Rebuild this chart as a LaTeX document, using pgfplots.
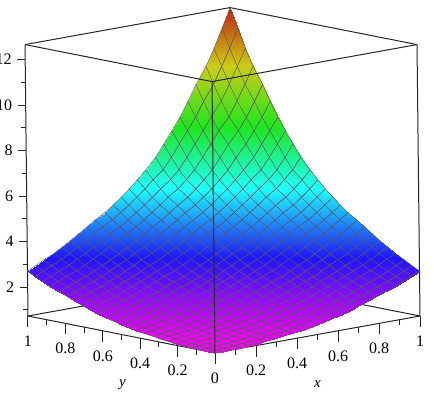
\documentclass[border=0pt]{standalone}
\usepackage{fontspec}
\setmainfont{Liberation Serif}
\usepackage{pgfplots}
\pgfplotsset{compat=1.18}
\begin{document}
\begin{tikzpicture}
\begin{axis}[
 x={(205pt,37pt)}, y={(-187pt,37pt)}, z={(-0.25pt,22.75pt)},
 xmin=0,xmax=1,ymin=0,ymax=1,zmin=0.73,zmax=12.66,
 3d box=complete,
 xtick={0.2,0.4,0.6,0.8,1}, ytick={0,0.2,0.4,0.6,0.8,1}, ztick={2,4,6,8,10,12},
 /pgf/number format/assume math mode=true,
 ticklabel style={font=\fontsize{16}{18}\selectfont},
 xticklabel style={anchor=center,yshift=-25pt},
 yticklabel style={anchor=center,yshift=-25pt},
 zticklabel style={anchor=east,xshift=-10pt},
 major tick length=0pt,
 xlabel={\textit{x}}, ylabel={\textit{y}},
 every axis x label/.style={at={(axis cs:0.5,0,0.73)},anchor=center,yshift=-50pt,font=\fontsize{15}{17}\selectfont},
 every axis y label/.style={at={(axis cs:0,0.5,0.73)},anchor=center,xshift=1pt,yshift=-50pt,font=\fontsize{15}{17}\selectfont},
 axis line style={line width=1pt,black!85},
 colormap={zhue}{rgb255(0)=(255,0,255) rgb255(1)=(30,20,255) rgb255(2)=(30,255,255) rgb255(3)=(30,230,30) rgb255(4)=(205,205,20) rgb255(5)=(190,35,20)},
 clip=false,
]
\addplot3[surf,shader=faceted interp,faceted color=black!65,line width=0.42pt,mesh/rows=25,mesh/cols=25] table[row sep=\\]{
x y z\\
0 0 .73\\.04 0 .73\\.08 0 .74\\.13 0 .75\\.17 0 .77\\.21 0 .80\\.25 0 .83\\.29 0 .87\\.33 0 .92\\.38 0 .97\\.42 0 1.02\\.46 0 1.09\\.5 0 1.16\\.54 0 1.24\\.58 0 1.33\\.63 0 1.44\\.67 0 1.55\\.71 0 1.67\\.75 0 1.80\\.79 0 1.93\\.83 0 2.07\\.88 0 2.22\\.92 0 2.37\\.96 0 2.53\\1 0 2.70\\
0 .04 .73\\.04 .04 .74\\.08 .04 .75\\.13 .04 .77\\.17 .04 .80\\.21 .04 .83\\.25 .04 .87\\.29 .04 .92\\.33 .04 .97\\.38 .04 1.02\\.42 .04 1.09\\.46 .04 1.16\\.5 .04 1.24\\.54 .04 1.33\\.58 .04 1.44\\.63 .04 1.55\\.67 .04 1.67\\.71 .04 1.80\\.75 .04 1.93\\.79 .04 2.07\\.83 .04 2.22\\.88 .04 2.37\\.92 .04 2.53\\.96 .04 2.70\\1 .04 2.88\\
0 .08 .74\\.04 .08 .75\\.08 .08 .77\\.13 .08 .80\\.17 .08 .83\\.21 .08 .87\\.25 .08 .92\\.29 .08 .97\\.33 .08 1.02\\.38 .08 1.09\\.42 .08 1.16\\.46 .08 1.24\\.5 .08 1.33\\.54 .08 1.44\\.58 .08 1.55\\.63 .08 1.67\\.67 .08 1.80\\.71 .08 1.93\\.75 .08 2.07\\.79 .08 2.22\\.83 .08 2.37\\.88 .08 2.53\\.92 .08 2.70\\.96 .08 2.88\\1 .08 3.07\\
0 .13 .75\\.04 .13 .77\\.08 .13 .80\\.13 .13 .83\\.17 .13 .87\\.21 .13 .92\\.25 .13 .97\\.29 .13 1.02\\.33 .13 1.09\\.38 .13 1.16\\.42 .13 1.24\\.46 .13 1.33\\.5 .13 1.44\\.54 .13 1.55\\.58 .13 1.67\\.63 .13 1.80\\.67 .13 1.93\\.71 .13 2.07\\.75 .13 2.22\\.79 .13 2.37\\.83 .13 2.53\\.88 .13 2.70\\.92 .13 2.88\\.96 .13 3.07\\1 .13 3.27\\
0 .17 .77\\.04 .17 .80\\.08 .17 .83\\.13 .17 .87\\.17 .17 .92\\.21 .17 .97\\.25 .17 1.02\\.29 .17 1.09\\.33 .17 1.16\\.38 .17 1.24\\.42 .17 1.33\\.46 .17 1.44\\.5 .17 1.55\\.54 .17 1.67\\.58 .17 1.80\\.63 .17 1.93\\.67 .17 2.07\\.71 .17 2.22\\.75 .17 2.37\\.79 .17 2.53\\.83 .17 2.70\\.88 .17 2.88\\.92 .17 3.07\\.96 .17 3.27\\1 .17 3.48\\
0 .21 .80\\.04 .21 .83\\.08 .21 .87\\.13 .21 .92\\.17 .21 .97\\.21 .21 1.02\\.25 .21 1.09\\.29 .21 1.16\\.33 .21 1.24\\.38 .21 1.33\\.42 .21 1.44\\.46 .21 1.55\\.5 .21 1.67\\.54 .21 1.80\\.58 .21 1.93\\.63 .21 2.07\\.67 .21 2.22\\.71 .21 2.37\\.75 .21 2.53\\.79 .21 2.70\\.83 .21 2.88\\.88 .21 3.07\\.92 .21 3.27\\.96 .21 3.48\\1 .21 3.70\\
0 .25 .83\\.04 .25 .87\\.08 .25 .92\\.13 .25 .97\\.17 .25 1.02\\.21 .25 1.09\\.25 .25 1.16\\.29 .25 1.24\\.33 .25 1.33\\.38 .25 1.44\\.42 .25 1.55\\.46 .25 1.67\\.5 .25 1.80\\.54 .25 1.93\\.58 .25 2.07\\.63 .25 2.22\\.67 .25 2.37\\.71 .25 2.53\\.75 .25 2.70\\.79 .25 2.88\\.83 .25 3.07\\.88 .25 3.27\\.92 .25 3.48\\.96 .25 3.70\\1 .25 3.93\\
0 .29 .87\\.04 .29 .92\\.08 .29 .97\\.13 .29 1.02\\.17 .29 1.09\\.21 .29 1.16\\.25 .29 1.24\\.29 .29 1.33\\.33 .29 1.44\\.38 .29 1.55\\.42 .29 1.67\\.46 .29 1.80\\.5 .29 1.93\\.54 .29 2.07\\.58 .29 2.22\\.63 .29 2.37\\.67 .29 2.53\\.71 .29 2.70\\.75 .29 2.88\\.79 .29 3.07\\.83 .29 3.27\\.88 .29 3.48\\.92 .29 3.70\\.96 .29 3.93\\1 .29 4.16\\
0 .33 .92\\.04 .33 .97\\.08 .33 1.02\\.13 .33 1.09\\.17 .33 1.16\\.21 .33 1.24\\.25 .33 1.33\\.29 .33 1.44\\.33 .33 1.55\\.38 .33 1.67\\.42 .33 1.80\\.46 .33 1.93\\.5 .33 2.07\\.54 .33 2.22\\.58 .33 2.37\\.63 .33 2.53\\.67 .33 2.70\\.71 .33 2.88\\.75 .33 3.07\\.79 .33 3.27\\.83 .33 3.48\\.88 .33 3.70\\.92 .33 3.93\\.96 .33 4.16\\1 .33 4.40\\
0 .38 .97\\.04 .38 1.02\\.08 .38 1.09\\.13 .38 1.16\\.17 .38 1.24\\.21 .38 1.33\\.25 .38 1.44\\.29 .38 1.55\\.33 .38 1.67\\.38 .38 1.80\\.42 .38 1.93\\.46 .38 2.07\\.5 .38 2.22\\.54 .38 2.37\\.58 .38 2.53\\.63 .38 2.70\\.67 .38 2.88\\.71 .38 3.07\\.75 .38 3.27\\.79 .38 3.48\\.83 .38 3.70\\.88 .38 3.93\\.92 .38 4.16\\.96 .38 4.40\\1 .38 4.66\\
0 .42 1.02\\.04 .42 1.09\\.08 .42 1.16\\.13 .42 1.24\\.17 .42 1.33\\.21 .42 1.44\\.25 .42 1.55\\.29 .42 1.67\\.33 .42 1.80\\.38 .42 1.93\\.42 .42 2.07\\.46 .42 2.22\\.5 .42 2.37\\.54 .42 2.53\\.58 .42 2.70\\.63 .42 2.88\\.67 .42 3.07\\.71 .42 3.27\\.75 .42 3.48\\.79 .42 3.70\\.83 .42 3.93\\.88 .42 4.16\\.92 .42 4.40\\.96 .42 4.66\\1 .42 4.92\\
0 .46 1.09\\.04 .46 1.16\\.08 .46 1.24\\.13 .46 1.33\\.17 .46 1.44\\.21 .46 1.55\\.25 .46 1.67\\.29 .46 1.80\\.33 .46 1.93\\.38 .46 2.07\\.42 .46 2.22\\.46 .46 2.37\\.5 .46 2.53\\.54 .46 2.70\\.58 .46 2.88\\.63 .46 3.07\\.67 .46 3.27\\.71 .46 3.48\\.75 .46 3.70\\.79 .46 3.93\\.83 .46 4.16\\.88 .46 4.40\\.92 .46 4.66\\.96 .46 4.92\\1 .46 5.20\\
0 .5 1.16\\.04 .5 1.24\\.08 .5 1.33\\.13 .5 1.44\\.17 .5 1.55\\.21 .5 1.67\\.25 .5 1.80\\.29 .5 1.93\\.33 .5 2.07\\.38 .5 2.22\\.42 .5 2.37\\.46 .5 2.53\\.5 .5 2.70\\.54 .5 2.88\\.58 .5 3.07\\.63 .5 3.27\\.67 .5 3.48\\.71 .5 3.70\\.75 .5 3.93\\.79 .5 4.16\\.83 .5 4.40\\.88 .5 4.66\\.92 .5 4.92\\.96 .5 5.20\\1 .5 5.50\\
0 .54 1.24\\.04 .54 1.33\\.08 .54 1.44\\.13 .54 1.55\\.17 .54 1.67\\.21 .54 1.80\\.25 .54 1.93\\.29 .54 2.07\\.33 .54 2.22\\.38 .54 2.37\\.42 .54 2.53\\.46 .54 2.70\\.5 .54 2.88\\.54 .54 3.07\\.58 .54 3.27\\.63 .54 3.48\\.67 .54 3.70\\.71 .54 3.93\\.75 .54 4.16\\.79 .54 4.40\\.83 .54 4.66\\.88 .54 4.92\\.92 .54 5.20\\.96 .54 5.50\\1 .54 5.84\\
0 .58 1.33\\.04 .58 1.44\\.08 .58 1.55\\.13 .58 1.67\\.17 .58 1.80\\.21 .58 1.93\\.25 .58 2.07\\.29 .58 2.22\\.33 .58 2.37\\.38 .58 2.53\\.42 .58 2.70\\.46 .58 2.88\\.5 .58 3.07\\.54 .58 3.27\\.58 .58 3.48\\.63 .58 3.70\\.67 .58 3.93\\.71 .58 4.16\\.75 .58 4.40\\.79 .58 4.66\\.83 .58 4.92\\.88 .58 5.20\\.92 .58 5.50\\.96 .58 5.84\\1 .58 6.20\\
0 .63 1.44\\.04 .63 1.55\\.08 .63 1.67\\.13 .63 1.80\\.17 .63 1.93\\.21 .63 2.07\\.25 .63 2.22\\.29 .63 2.37\\.33 .63 2.53\\.38 .63 2.70\\.42 .63 2.88\\.46 .63 3.07\\.5 .63 3.27\\.54 .63 3.48\\.58 .63 3.70\\.63 .63 3.93\\.67 .63 4.16\\.71 .63 4.40\\.75 .63 4.66\\.79 .63 4.92\\.83 .63 5.20\\.88 .63 5.50\\.92 .63 5.84\\.96 .63 6.20\\1 .63 6.68\\
0 .67 1.55\\.04 .67 1.67\\.08 .67 1.80\\.13 .67 1.93\\.17 .67 2.07\\.21 .67 2.22\\.25 .67 2.37\\.29 .67 2.53\\.33 .67 2.70\\.38 .67 2.88\\.42 .67 3.07\\.46 .67 3.27\\.5 .67 3.48\\.54 .67 3.70\\.58 .67 3.93\\.63 .67 4.16\\.67 .67 4.40\\.71 .67 4.66\\.75 .67 4.92\\.79 .67 5.20\\.83 .67 5.50\\.88 .67 5.84\\.92 .67 6.20\\.96 .67 6.68\\1 .67 7.20\\
0 .71 1.67\\.04 .71 1.80\\.08 .71 1.93\\.13 .71 2.07\\.17 .71 2.22\\.21 .71 2.37\\.25 .71 2.53\\.29 .71 2.70\\.33 .71 2.88\\.38 .71 3.07\\.42 .71 3.27\\.46 .71 3.48\\.5 .71 3.70\\.54 .71 3.93\\.58 .71 4.16\\.63 .71 4.40\\.67 .71 4.66\\.71 .71 4.92\\.75 .71 5.20\\.79 .71 5.50\\.83 .71 5.84\\.88 .71 6.20\\.92 .71 6.68\\.96 .71 7.20\\1 .71 7.72\\
0 .75 1.80\\.04 .75 1.93\\.08 .75 2.07\\.13 .75 2.22\\.17 .75 2.37\\.21 .75 2.53\\.25 .75 2.70\\.29 .75 2.88\\.33 .75 3.07\\.38 .75 3.27\\.42 .75 3.48\\.46 .75 3.70\\.5 .75 3.93\\.54 .75 4.16\\.58 .75 4.40\\.63 .75 4.66\\.67 .75 4.92\\.71 .75 5.20\\.75 .75 5.50\\.79 .75 5.84\\.83 .75 6.20\\.88 .75 6.68\\.92 .75 7.20\\.96 .75 7.72\\1 .75 8.25\\
0 .79 1.93\\.04 .79 2.07\\.08 .79 2.22\\.13 .79 2.37\\.17 .79 2.53\\.21 .79 2.70\\.25 .79 2.88\\.29 .79 3.07\\.33 .79 3.27\\.38 .79 3.48\\.42 .79 3.70\\.46 .79 3.93\\.5 .79 4.16\\.54 .79 4.40\\.58 .79 4.66\\.63 .79 4.92\\.67 .79 5.20\\.71 .79 5.50\\.75 .79 5.84\\.79 .79 6.20\\.83 .79 6.68\\.88 .79 7.20\\.92 .79 7.72\\.96 .79 8.25\\1 .79 8.88\\
0 .83 2.07\\.04 .83 2.22\\.08 .83 2.37\\.13 .83 2.53\\.17 .83 2.70\\.21 .83 2.88\\.25 .83 3.07\\.29 .83 3.27\\.33 .83 3.48\\.38 .83 3.70\\.42 .83 3.93\\.46 .83 4.16\\.5 .83 4.40\\.54 .83 4.66\\.58 .83 4.92\\.63 .83 5.20\\.67 .83 5.50\\.71 .83 5.84\\.75 .83 6.20\\.79 .83 6.68\\.83 .83 7.20\\.88 .83 7.72\\.92 .83 8.25\\.96 .83 8.88\\1 .83 9.55\\
0 .88 2.22\\.04 .88 2.37\\.08 .88 2.53\\.13 .88 2.70\\.17 .88 2.88\\.21 .88 3.07\\.25 .88 3.27\\.29 .88 3.48\\.33 .88 3.70\\.38 .88 3.93\\.42 .88 4.16\\.46 .88 4.40\\.5 .88 4.66\\.54 .88 4.92\\.58 .88 5.20\\.63 .88 5.50\\.67 .88 5.84\\.71 .88 6.20\\.75 .88 6.68\\.79 .88 7.20\\.83 .88 7.72\\.88 .88 8.25\\.92 .88 8.88\\.96 .88 9.55\\1 .88 10.27\\
0 .92 2.37\\.04 .92 2.53\\.08 .92 2.70\\.13 .92 2.88\\.17 .92 3.07\\.21 .92 3.27\\.25 .92 3.48\\.29 .92 3.70\\.33 .92 3.93\\.38 .92 4.16\\.42 .92 4.40\\.46 .92 4.66\\.5 .92 4.92\\.54 .92 5.20\\.58 .92 5.50\\.63 .92 5.84\\.67 .92 6.20\\.71 .92 6.68\\.75 .92 7.20\\.79 .92 7.72\\.83 .92 8.25\\.88 .92 8.88\\.92 .92 9.55\\.96 .92 10.27\\1 .92 11.0\\
0 .96 2.53\\.04 .96 2.70\\.08 .96 2.88\\.13 .96 3.07\\.17 .96 3.27\\.21 .96 3.48\\.25 .96 3.70\\.29 .96 3.93\\.33 .96 4.16\\.38 .96 4.40\\.42 .96 4.66\\.46 .96 4.92\\.5 .96 5.20\\.54 .96 5.50\\.58 .96 5.84\\.63 .96 6.20\\.67 .96 6.68\\.71 .96 7.20\\.75 .96 7.72\\.79 .96 8.25\\.83 .96 8.88\\.88 .96 9.55\\.92 .96 10.27\\.96 .96 11.0\\1 .96 11.82\\
0 1 2.70\\.04 1 2.88\\.08 1 3.07\\.13 1 3.27\\.17 1 3.48\\.21 1 3.70\\.25 1 3.93\\.29 1 4.16\\.33 1 4.40\\.38 1 4.66\\.42 1 4.92\\.46 1 5.20\\.5 1 5.50\\.54 1 5.84\\.58 1 6.20\\.63 1 6.68\\.67 1 7.20\\.71 1 7.72\\.75 1 8.25\\.79 1 8.88\\.83 1 9.55\\.88 1 10.27\\.92 1 11.0\\.96 1 11.82\\1 1 12.66\\
};
\coordinate (o) at (axis cs:0,0,0.73);
\end{axis}
\begin{scope}[line width=1pt,black!85]
\foreach \v in {0.2,0.4,0.6,0.8,1}{\draw ([shift={(205*\v pt,37*\v pt)}]o) -- ++(0,-11pt);}
\foreach \v in {0.1,0.3,0.5,0.7,0.9}{\draw ([shift={(205*\v pt,37*\v pt)}]o) -- ++(0,-5.5pt);}
\foreach \v in {0,0.2,0.4,0.6,0.8,1}{\draw ([shift={(-187*\v pt,37*\v pt)}]o) -- ++(0,-11pt);}
\foreach \v in {0.1,0.3,0.5,0.7,0.9}{\draw ([shift={(-187*\v pt,37*\v pt)}]o) -- ++(0,-5.5pt);}
\foreach \v in {2,4,6,8,10,12}{\draw ([shift={(-187pt-0.25pt*\v+0.18pt,37pt+22.75pt*\v-16.6pt)}]o) -- ++(-8pt,0);}
\foreach \v in {1,3,5,7,9,11}{\draw ([shift={(-187pt-0.25pt*\v+0.18pt,37pt+22.75pt*\v-16.6pt)}]o) -- ++(-4.5pt,0);}
\end{scope}
\pgfresetboundingbox
\path[use as bounding box] ([shift={(-215pt,-42pt)}]o) rectangle ([shift={(219pt,353pt)}]o);
\end{tikzpicture}
\end{document}
